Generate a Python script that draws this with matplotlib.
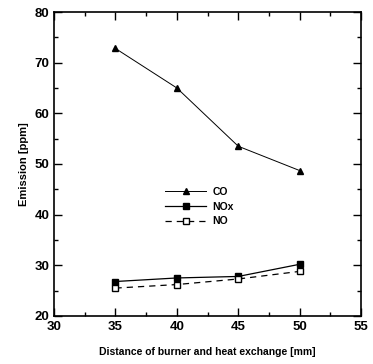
import numpy as np
import matplotlib.pyplot as plt
from matplotlib.ticker import MultipleLocator

distance = [35, 40, 45, 50]
co = [72.8, 65.0, 53.5, 48.7]
nox = [26.8, 27.5, 27.8, 30.2]
no = [25.5, 26.2, 27.3, 28.8]

plt.rcParams.update({
    "font.family": ["Liberation Sans", "DejaVu Sans"],
    "font.weight": "bold",
    "axes.labelweight": "bold",
    "xtick.direction": "in",
    "ytick.direction": "in",
})

fig = plt.figure(figsize=(3.73, 3.64), dpi=100)
ax = fig.add_axes([0.145, 0.132, 0.823, 0.835])

ax.plot(distance, co, color="black", linewidth=0.7, linestyle="-",
        marker="^", markersize=5, label="CO")
ax.plot(distance, nox, color="black", linewidth=0.9, linestyle="-",
        marker="s", markersize=5, label="NOx")
ax.plot(distance, no, color="black", linewidth=0.9, linestyle=(0, (5, 4)),
        marker="s", markersize=5, markerfacecolor="white", label="NO")

ax.set_xlim(30, 55)
ax.set_ylim(20, 80)
ax.xaxis.set_major_locator(MultipleLocator(5))
ax.xaxis.set_minor_locator(MultipleLocator(2.5))
ax.yaxis.set_major_locator(MultipleLocator(10))
ax.yaxis.set_minor_locator(MultipleLocator(5))
ax.tick_params(which="both", top=True, right=True, width=1.0, labelsize=9.5)
ax.tick_params(which="major", length=6)
ax.tick_params(which="minor", length=3)
for s in ax.spines.values():
    s.set_linewidth(1.2)

ax.set_xlabel("Distance of burner and heat exchange [mm]", fontsize=7.5, labelpad=10)
ax.set_ylabel("Emission [ppm]", fontsize=8)

ax.legend(loc="center left", bbox_to_anchor=(0.33, 0.36), frameon=False,
          fontsize=7.5, handlelength=4, labelspacing=0.45, handletextpad=0.6)

fig.savefig("out.png", dpi=100)
